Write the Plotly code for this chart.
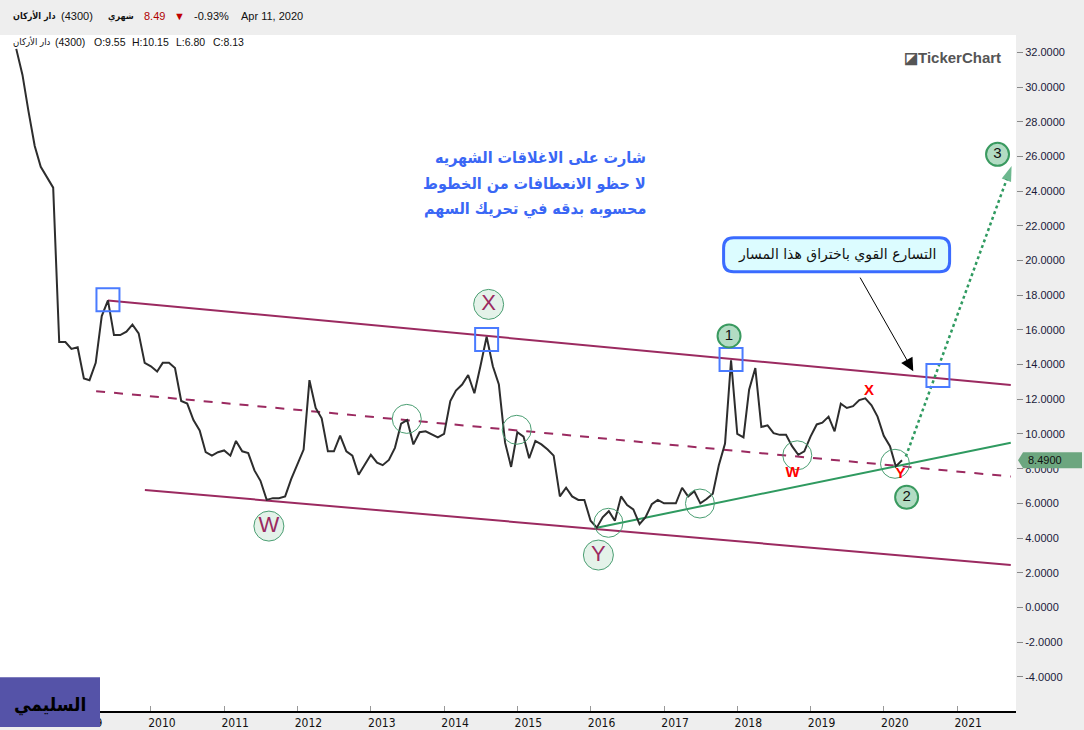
import plotly.graph_objects as go
import pandas as pd

# ---------------- data ----------------
first_month = "2008-03-01"
close = [32.2, 30.7, 28.6, 26.6, 25.4, 24.8, 24.2, 15.3, 15.3, 14.9,
         15.0, 13.2, 13.1, 14.1, 16.8, 17.7, 15.7, 15.7, 15.9, 16.3,
         15.8, 14.1, 13.9, 13.6, 14.1, 14.1, 13.8, 11.9, 11.75, 10.8,
         10.2, 8.95, 8.75, 8.95, 9.05, 8.75, 9.6, 9.0, 8.9, 7.9,
         7.3, 6.2, 6.3, 6.3, 6.4, 7.4, 8.2, 9.1, 13.1, 11.5,
         10.9, 9.0, 9.0, 9.9, 9.0, 8.75, 7.65, 8.2, 8.8, 8.35,
         8.2, 8.5, 9.2, 10.6, 10.8, 9.4, 10.1, 10.15, 9.95, 9.8,
         10.0, 11.9, 12.5, 12.85, 13.4, 12.35, 13.9, 15.6, 13.9, 12.85,
         9.5, 8.1, 10.1, 9.85, 8.6, 9.6, 9.4, 9.1, 8.75, 6.4,
         6.9, 6.4, 6.2, 6.2, 5.0, 4.6, 5.2, 5.55, 5.0, 6.4,
         5.9, 5.65, 4.8, 5.2, 5.95, 6.2, 6.0, 6.0, 6.0, 6.9,
         6.4, 6.7, 6.0, 6.25, 6.55, 8.2, 9.45, 14.25, 10.0, 9.8,
         12.55, 13.8, 10.4, 10.5, 10.05, 9.95, 9.95, 9.3, 8.8, 9.0,
         9.85, 10.55, 10.65, 11.0, 10.15, 11.75, 11.5, 11.6, 11.95, 12.05,
         11.65, 11.0, 9.9, 9.3, 8.13, 8.49]
dates = pd.date_range(first_month, periods=len(close), freq="MS")
last_price = 8.49

years = list(range(2009, 2022))
year_vals = [f"{y}-01-01" for y in years]
year_text = [str(y) for y in years]
y_ticks = list(range(-4, 33, 2))
y_text = [f"{v:.4f}" for v in y_ticks]
x_range = ["2007-12-11", "2021-10-21"]
y_range = [-5.97, 33.0]

# channel / trend lines (analyst drawings)
upper_x = ["2009-06-01", "2021-09-25"]; upper_y = [17.7, 12.82]
mid_x = ["2009-04-03", "2021-09-25"];   mid_y = [12.47, 7.55]
lower_x = ["2009-12-02", "2021-09-25"]; lower_y = [6.77, 2.45]
support_x = ["2016-02-01", "2021-09-25"]; support_y = [4.6, 9.5]
proj_x = ["2020-04-20", "2021-09-29"];  proj_y = [8.7, 25.45]

box_x = ["2009-06-01", "2014-08-01", "2017-12-01", "2020-09-27"]
box_y = [17.74, 15.44, 14.3, 13.37]
ring_x = ["2013-06-29", "2014-12-29", "2016-03-30", "2017-06-29", "2018-10-27", "2020-02-26"]
ring_y = [10.87, 10.24, 4.88, 5.99, 8.77, 8.28]
wave_x = ["2011-08-12", "2014-08-11", "2016-02-09"]
wave_y = [4.69, 17.47, 3.02]
wave_text = ["W", "X", "Y"]
num_x = ["2017-11-21", "2020-04-24", "2021-07-21"]
num_y = [15.65, 6.35, 26.12]
num_text = ["1", "2", "3"]
red_x = ["2019-10-20", "2018-10-04", "2020-03-25"]
red_y = [12.47, 7.71, 7.65]
red_text = ["X", "W", "Y"]

note_lines = ["شارت على الاغلاقات الشهريه",
              "لا حظو الانعطافات من الخطوط",
              "محسوبه بدقه في تحريك السهم"]
note_x = "2016-10-13"
note_y = [25.95, 24.45, 22.96]
callout_text = "التسارع القوي باختراق هذا المسار"
callout_x, callout_y = "2019-05-11", 20.33
arrow_tail = ("2019-09-01", 19.1)
arrow_tip = ("2020-05-27", 13.62)

# ---------------- styles ----------------
MAROON = "#9b2a60"
GREEN = "#2f9a60"
BLUE = "#4a7bff"
W, H = 1084, 730
ML, MR, MT, MB = 0, 68, 35, 16
PW, PH = W - ML - MR, H - MT - MB
AR_FONT = "DejaVu Sans Condensed, DejaVu Sans"


def px(xp):
    return (xp - ML) / PW


def py(yp):
    return (H - MB - yp) / PH


def yfrac(v):
    return (v - y_range[0]) / (y_range[1] - y_range[0])


fig = go.Figure()
for xs, ys, dash in [(upper_x, upper_y, "solid"), (lower_x, lower_y, "solid"), (mid_x, mid_y, "dash")]:
    fig.add_trace(go.Scatter(x=xs, y=ys, mode="lines",
                             line=dict(color=MAROON, width=2, dash=dash), hoverinfo="skip"))
fig.add_trace(go.Scatter(x=support_x, y=support_y, mode="lines",
                         line=dict(color=GREEN, width=2), hoverinfo="skip"))
fig.add_trace(go.Scatter(x=dates, y=close, mode="lines",
                         line=dict(color="#2d2d2d", width=2), name="close"))
fig.add_trace(go.Scatter(x=proj_x, y=proj_y, mode="lines+markers",
                         line=dict(color=GREEN, width=2.5, dash="dot"),
                         marker=dict(symbol=["circle", "arrow"], size=[0, 16], color=GREEN,
                                     angleref="previous", line=dict(width=0)),
                         hoverinfo="skip"))
fig.add_trace(go.Scatter(x=box_x, y=box_y, mode="markers",
                         marker=dict(symbol="square", size=23, color="rgba(0,0,0,0)",
                                     line=dict(color=BLUE, width=2)), hoverinfo="skip"))
fig.add_trace(go.Scatter(x=ring_x, y=ring_y, mode="markers",
                         marker=dict(symbol="circle", size=29, color="rgba(0,0,0,0)",
                                     line=dict(color="#4a9e72", width=1)), hoverinfo="skip"))
fig.add_trace(go.Scatter(x=wave_x, y=wave_y, mode="markers+text", text=wave_text,
                         textposition="middle center",
                         textfont=dict(family="Liberation Sans, Arial", size=22, color=MAROON),
                         marker=dict(symbol="circle", size=30, color="#e4f2e9",
                                     line=dict(color="#4a9e72", width=1)), hoverinfo="skip"))
fig.add_trace(go.Scatter(x=num_x, y=num_y, mode="markers+text", text=num_text,
                         textposition="middle center",
                         textfont=dict(family="Liberation Sans, Arial", size=15, color="#111"),
                         marker=dict(symbol="circle", size=23, color="#b2dcc3",
                                     line=dict(color="#3a9a60", width=2)), hoverinfo="skip"))
fig.add_trace(go.Scatter(x=red_x, y=red_y, mode="text", text=red_text,
                         textposition="middle center",
                         textfont=dict(family="Liberation Sans, Arial", size=15, color="#ff0000",
                                       weight="bold"), hoverinfo="skip"))


def rounded_path(w, h, r):
    x0, x1, y0, y1 = -w / 2, w / 2, -h / 2, h / 2
    return (f"M{x0 + r},{y0} L{x1 - r},{y0} Q{x1},{y0} {x1},{y0 + r} L{x1},{y1 - r} "
            f"Q{x1},{y1} {x1 - r},{y1} L{x0 + r},{y1} Q{x0},{y1} {x0},{y1 - r} "
            f"L{x0},{y0 + r} Q{x0},{y0} {x0 + r},{y0} Z")


shapes = [
    dict(type="path", xref="x", yref="y", xsizemode="pixel", ysizemode="pixel",
         xanchor=callout_x, yanchor=callout_y, path=rounded_path(226, 34, 10),
         fillcolor="#dcfcff", line=dict(color="#3a6bff", width=3), layer="above"),
    dict(type="path", xref="paper", yref="paper", xsizemode="pixel", ysizemode="pixel",
         xanchor=1.0, yanchor=yfrac(last_price), path="M2,0 L7,8 L66,8 L66,-8 L7,-8 Z",
         fillcolor="#6ca67f", line=dict(width=0), layer="above"),
    dict(type="rect", xref="paper", yref="paper", x0=0, x1=px(100), y0=py(730), y1=py(680),
         fillcolor="#5553a8", line=dict(width=0), layer="above"),
]

ann = []
for t, yv in zip(note_lines, note_y):
    ann.append(dict(x=note_x, y=yv, xref="x", yref="y", text=t, showarrow=False,
                    xanchor="right", yanchor="middle",
                    font=dict(family=AR_FONT, size=16, color="#3a67f5", weight="bold")))
ann += [
    dict(x=callout_x, y=callout_y, xref="x", yref="y", text=callout_text, showarrow=False,
         font=dict(family="DejaVu Sans", size=14, color="#111")),
    dict(x=arrow_tip[0], y=arrow_tip[1], ax=arrow_tail[0], ay=arrow_tail[1],
         xref="x", yref="y", axref="x", ayref="y", text="", showarrow=True,
         arrowhead=2, arrowsize=2.6, arrowwidth=1, arrowcolor="#000"),
    dict(x=px(1026), y=yfrac(last_price), xref="paper", yref="paper", text="8.4900",
         showarrow=False, xanchor="left", yanchor="middle",
         font=dict(family="Liberation Sans, Arial", size=11, color="#111")),
    dict(x=px(12), y=py(707), xref="paper", yref="paper", text="السليمي", showarrow=False,
         xanchor="left", yanchor="middle",
         font=dict(family=AR_FONT, size=19, color="#000", weight="bold")),
    dict(x=px(1003), y=py(58), xref="paper", yref="paper", text="◪TickerChart", showarrow=False,
         xanchor="right", yanchor="middle",
         font=dict(family="Liberation Sans, Arial", size=15, color="#555", weight="bold")),
]

# header row: (left pixel, text, colour, bold, arabic)
header = [
    (11, "دار الأركان", "#111", True, True),
    (59, "(4300)", "#111", False, False),
    (106, "شهري", "#111", True, True),
    (142, "8.49", "#b00000", False, False),
    (172, "▼", "#c00000", False, False),
    (192, "-0.93%", "#111", False, False),
    (239, "Apr 11, 2020", "#111", False, False),
]
for x0, t, c, b, ar in header:
    ann.append(dict(x=px(x0), y=py(16), xref="paper", yref="paper", text=t, showarrow=False,
                    xanchor="left", yanchor="middle",
                    font=dict(family=AR_FONT if ar else "Liberation Sans, Arial",
                              size=9 if ar else 11, color=c, weight="bold" if b else "normal")))
row2 = [(11, "دار الأركان", True), (53, "(4300)", False), (92, "O:9.55", False),
        (130, "H:10.15", False), (174, "L:6.80", False), (211, "C:8.13", False)]
for x0, t, ar in row2:
    ann.append(dict(x=px(x0), y=py(42), xref="paper", yref="paper", text=t, showarrow=False,
                    xanchor="left", yanchor="middle",
                    font=dict(family=AR_FONT if ar else "Liberation Sans, Arial",
                              size=9.5 if ar else 10.5, color="#111")))

fig.update_layout(
    width=W, height=H, margin=dict(l=ML, r=MR, t=MT, b=MB),
    paper_bgcolor="#eeeeee", plot_bgcolor="#ffffff", showlegend=False,
    shapes=shapes, annotations=ann,
    xaxis=dict(type="date", range=x_range, tickmode="array", tickvals=year_vals, ticktext=year_text,
               ticks="inside", ticklen=5, tickcolor="#999", showgrid=False, zeroline=False,
               showline=True, linecolor="#000", linewidth=2, ticklabelshift=11,
               tickfont=dict(family="Liberation Sans Narrow, DejaVu Sans Condensed", size=12, color="#111")),
    yaxis=dict(side="right", range=y_range, tickmode="array", tickvals=y_ticks, ticktext=y_text,
               ticks="outside", ticklen=6, tickcolor="#888", showgrid=False, zeroline=False,
               showline=False,
               tickfont=dict(family="Liberation Sans, Arial", size=11, color="#1a1a3a")),
)
fig.write_html("out.html", config={"displayModeBar": False},
               post_script="document.body.style.margin='0px';")
